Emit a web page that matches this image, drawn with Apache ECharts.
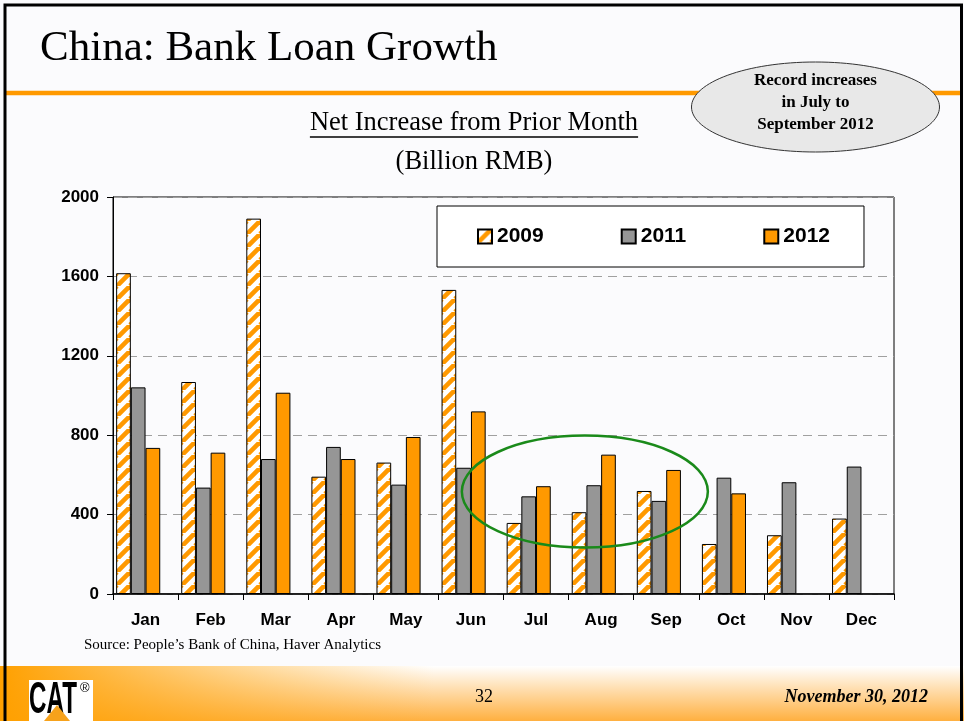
<!DOCTYPE html>
<html>
<head>
<meta charset="utf-8">
<title>China: Bank Loan Growth</title>
<script src="https://cdn.jsdelivr.net/npm/echarts@6/dist/echarts.min.js"></script>
<style>
  html, body { margin: 0; padding: 0; background: #fbfbfd; }
  #chart { width: 964px; height: 721px; }
</style>
</head>
<body>
<div id="chart"></div>
<script>
// Monthly net new loans (billion RMB)
const months = ['Jan', 'Feb', 'Mar', 'Apr', 'May', 'Jun', 'Jul', 'Aug', 'Sep', 'Oct', 'Nov', 'Dec'];
const loans2009 = [1616, 1068, 1891, 591, 662, 1532, 358, 412, 519, 252, 296, 380];
const loans2011 = [1041, 536, 680, 741, 551, 636, 492, 548, 469, 586, 563, 642];
const loans2012 = [736, 712, 1014, 680, 791, 920, 543, 702, 625, 507, null, null];
const seriesNames = ['2009', '2011', '2012'];
const yMin = 0, yMax = 2000, yStep = 400;

const ORANGE = '#ff9900';
const GREY = '#969696';
const SERIF = '"Liberation Serif", "Times New Roman", serif';
const SANS = '"Liberation Sans", Arial, sans-serif';

// Diagonal orange/white stripes for the 2009 bars
function makeHatch() {
  const s = 13;
  const c = document.createElement('canvas');
  c.width = s; c.height = s;
  const ctx = c.getContext('2d');
  ctx.fillStyle = '#ffffff';
  ctx.fillRect(0, 0, s, s);
  ctx.strokeStyle = ORANGE;
  ctx.lineWidth = 4.6;
  for (let k = -1; k <= 1; k++) {
    ctx.beginPath();
    ctx.moveTo(k * s, s);
    ctx.lineTo(k * s + s, 0);
    ctx.stroke();
  }
  return { image: c, repeat: 'repeat' };
}

function textWidth(str, font) {
  const ctx = document.createElement('canvas').getContext('2d');
  ctx.font = font;
  return ctx.measureText(str).width;
}

const chart = echarts.init(document.getElementById('chart'), null, { renderer: 'canvas' });

const barBase = {
  type: 'bar',
  barWidth: 14.7,
  barGap: '0%',
  z: 3
};

chart.setOption({
  animation: false,
  backgroundColor: '#fbfbfd',
  textStyle: { fontFamily: SANS },
  grid: {
    left: 113, right: 70, top: 197, bottom: 127,
    show: true, borderColor: '#000', borderWidth: 1, backgroundColor: 'transparent'
  },
  legend: {
    data: seriesNames,
    left: 437, top: 206,
    padding: [20, 34, 20, 40],
    itemWidth: 14, itemHeight: 14, itemGap: 77,
    borderColor: '#000', borderWidth: 1,
    backgroundColor: '#fff',
    icon: 'rect',
    textStyle: { fontFamily: SANS, fontWeight: 'bold', fontSize: 21, color: '#000' },
    selectedMode: false
  },
  xAxis: {
    type: 'category',
    data: months,
    axisLine: { lineStyle: { color: '#000', width: 1.5 } },
    axisTick: { show: true, length: 6, lineStyle: { color: '#000' } },
    axisLabel: { color: '#000', fontFamily: SANS, fontWeight: 'bold', fontSize: 17, margin: 18 },
    splitLine: { show: false }
  },
  yAxis: {
    type: 'value',
    min: yMin, max: yMax, interval: yStep,
    axisLine: { show: true, lineStyle: { color: '#000', width: 1 } },
    axisTick: { show: true, length: 6, lineStyle: { color: '#000' } },
    axisLabel: {
      color: '#000', fontFamily: SANS, fontWeight: 'bold', fontSize: 17, margin: 14,
      formatter: v => String(v)
    },
    splitLine: { show: true, lineStyle: { color: '#a0a0a0', type: [9, 6], width: 1 } }
  },
  series: [
    Object.assign({}, barBase, {
      name: '2009', data: loans2009,
      itemStyle: { color: makeHatch(), borderColor: '#000', borderWidth: 1 }
    }),
    Object.assign({}, barBase, {
      name: '2011', data: loans2011,
      itemStyle: { color: GREY, borderColor: '#000', borderWidth: 1 }
    }),
    Object.assign({}, barBase, {
      name: '2012', data: loans2012,
      itemStyle: { color: ORANGE, borderColor: '#000', borderWidth: 1 }
    }),
    // empty slot that keeps each month's three bars offset to the left
    Object.assign({}, barBase, {
      name: '', data: months.map(() => null),
      itemStyle: { color: 'transparent' }
    })
  ]
});

// Decorations: slide frame, headings, callout, highlight ring, footer
const x0 = chart.convertToPixel({ xAxisIndex: 0 }, 'Jan');
const x1 = chart.convertToPixel({ xAxisIndex: 0 }, 'Feb');
const catW = x1 - x0;
const xAug = chart.convertToPixel({ xAxisIndex: 0 }, 'Aug');
const ringCx = xAug - 0.25 * catW;
const ringCy = chart.convertToPixel({ yAxisIndex: 0 }, 516);
const ringRx = 1.89 * catW;
const ringRy = chart.convertToPixel({ yAxisIndex: 0 }, 0) - chart.convertToPixel({ yAxisIndex: 0 }, 282);

const subFont = '26.5px ' + SERIF;
const subText = 'Net Increase from Prior Month';
const subW = textWidth(subText, subFont);
const subCx = 474;

chart.setOption({
  graphic: [
    // footer band
    {
      type: 'rect', silent: true, z: 0,
      shape: { x: 0, y: 666, width: 964, height: 55 },
      style: {
        fill: new echarts.graphic.LinearGradient(0, 0, 0, 1, [
          { offset: 0, color: '#ffffff' },
          { offset: 1, color: '#ffb040' }
        ])
      }
    },
    {
      type: 'rect', silent: true, z: 0,
      shape: { x: 0, y: 666, width: 964, height: 55 },
      style: {
        fill: new echarts.graphic.LinearGradient(0, 0, 1, 0, [
          { offset: 0, color: 'rgba(255,160,0,1)' },
          { offset: 0.45, color: 'rgba(255,175,40,0)' },
          { offset: 1, color: 'rgba(255,175,40,0)' }
        ])
      }
    },
    // slide frame
    {
      type: 'polyline', silent: true, z: 10,
      shape: { points: [[5, 721], [5, 5], [961.5, 5], [961.5, 721]] },
      style: { stroke: '#000', lineWidth: 3, fill: null }
    },
    // heading rule
    {
      type: 'line', silent: true, z: 1,
      shape: { x1: 6, y1: 93, x2: 960, y2: 93 },
      style: { stroke: ORANGE, lineWidth: 4.5 }
    },
    {
      type: 'text', silent: true, z: 5,
      style: {
        text: 'China: Bank Loan Growth', x: 40, y: 70,
        font: '43px ' + SERIF, fill: '#000', textVerticalAlign: 'bottom', textBaseline: 'alphabetic'
      }
    },
    // callout bubble
    {
      type: 'ellipse', silent: true, z: 5,
      shape: { cx: 815.5, cy: 107, rx: 124, ry: 45 },
      style: { fill: '#e8e8e8', stroke: '#333', lineWidth: 1 }
    },
    {
      type: 'text', silent: true, z: 6,
      style: {
        text: 'Record increases\nin July to\nSeptember 2012', x: 815.5, y: 103,
        font: 'bold 17px ' + SERIF, fill: '#000', lineHeight: 22,
        textAlign: 'center', textVerticalAlign: 'middle', align: 'center', verticalAlign: 'middle'
      }
    },
    // chart heading
    {
      type: 'text', silent: true, z: 5,
      style: {
        text: subText, x: subCx, y: 123,
        font: subFont, fill: '#000',
        align: 'center', verticalAlign: 'middle', textAlign: 'center', textVerticalAlign: 'middle'
      }
    },
    {
      type: 'line', silent: true, z: 5,
      shape: { x1: subCx - subW / 2, y1: 137, x2: subCx + subW / 2, y2: 137 },
      style: { stroke: '#000', lineWidth: 1.5 }
    },
    {
      type: 'text', silent: true, z: 5,
      style: {
        text: '(Billion RMB)', x: subCx, y: 162,
        font: subFont, fill: '#000',
        align: 'center', verticalAlign: 'middle', textAlign: 'center', textVerticalAlign: 'middle'
      }
    },
    // highlight ring around Jul-Sep
    {
      type: 'ellipse', silent: true, z: 20,
      shape: { cx: ringCx, cy: ringCy, rx: ringRx, ry: ringRy },
      style: { fill: null, stroke: '#1a8a1a', lineWidth: 2.5 }
    },
    // source note
    {
      type: 'text', silent: true, z: 5,
      style: {
        text: 'Source: People\u2019s Bank of China, Haver Analytics', x: 84, y: 645,
        font: '15px ' + SERIF, fill: '#000', verticalAlign: 'middle', textVerticalAlign: 'middle'
      }
    },
    // footer logo
    {
      type: 'rect', silent: true, z: 5,
      shape: { x: 29, y: 680, width: 64, height: 41 },
      style: { fill: '#ffffff' }
    },
    {
      type: 'text', silent: true, z: 6,
      scaleX: 0.55, x: 29, y: 679,
      style: {
        text: 'CAT', x: 0, y: 0,
        font: '900 44px ' + SANS, fill: '#000', verticalAlign: 'top', textVerticalAlign: 'top'
      }
    },
    {
      type: 'polygon', silent: true, z: 7,
      shape: { points: [[44, 721], [57, 705], [70, 721]] },
      style: { fill: '#f7a21b' }
    },
    {
      type: 'text', silent: true, z: 6,
      style: {
        text: '\u00AE', x: 80, y: 682,
        font: '13px ' + SANS, fill: '#000', verticalAlign: 'top', textVerticalAlign: 'top'
      }
    },
    {
      type: 'text', silent: true, z: 6,
      style: {
        text: '32', x: 484, y: 697,
        font: '18px ' + SERIF, fill: '#000',
        align: 'center', verticalAlign: 'middle', textAlign: 'center', textVerticalAlign: 'middle'
      }
    },
    {
      type: 'text', silent: true, z: 6,
      style: {
        text: 'November 30, 2012', x: 928, y: 697,
        font: 'italic bold 18px ' + SERIF, fill: '#000',
        align: 'right', verticalAlign: 'middle', textAlign: 'right', textVerticalAlign: 'middle'
      }
    }
  ]
});
</script>
</body>
</html>
